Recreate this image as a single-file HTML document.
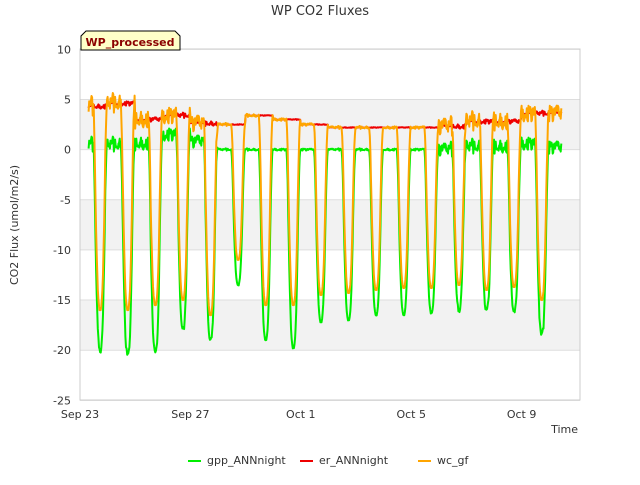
<!DOCTYPE html>
<html><head><meta charset="utf-8"><style>
body{margin:0;background:#fff;font-family:"Liberation Sans","DejaVu Sans",sans-serif}
</style></head><body>
<svg width="640" height="480" xmlns="http://www.w3.org/2000/svg" font-family="DejaVu Sans, Liberation Sans, sans-serif">
<text x="320" y="15" text-anchor="middle" font-size="13" fill="#333">WP CO2 Fluxes</text>
<g id="grid"></g>
<g id="series"></g>
<g id="axes"></g>
<text transform="translate(18,225) rotate(-90)" text-anchor="middle" font-size="11" fill="#333">CO2 Flux (umol/m2/s)</text>
<text x="578" y="433" text-anchor="end" font-size="11" fill="#333">Time</text>
<g>
<path d="M81,50 L81,36 L86,31 L175,31 L180,36 L180,50 Z" fill="#ffffc8" stroke="#000" stroke-width="1"/>
<text x="130" y="46" text-anchor="middle" font-size="11" font-weight="bold" fill="#8b0000">WP_processed</text>
</g>
<g id="legend"></g>
</svg>
<script>
const yTicks=[10,5,0,-5,-10,-15,-20,-25];
const xTickDays=[0,4,8,12,16];
const xTickLabels=["Sep 23","Sep 27","Oct 1","Oct 5","Oct 9"];
const seriesNames=["gpp_ANNnight","er_ANNnight","wc_gf"];
const gppMin=[-20,-20.5,-20.3,-18,-19,-13.5,-19,-19.8,-17.2,-17,-16.5,-16.5,-16.3,-16,-16,-16.3,-18.5,-2];
const gppNight=[0.5,0.5,0.6,1.5,0.8,0,0,0,0,0,0,0,0,0,0.3,0.3,0.6,0.2];
const wcMin=[-16,-16,-15.5,-15,-16.5,-11,-15.5,-15.5,-14.5,-14.3,-14,-13.8,-13.8,-13.5,-14,-13.7,-15,-1];
const erNight=[4.3,4.6,3.0,3.4,2.6,2.5,3.4,3.0,2.5,2.2,2.2,2.2,2.2,2.3,2.8,2.8,3.6,3.6];
const dayProfile=[0,0,0,0,0,0,0,0,0,0,0,0,0,0,0,0,0,0,0,0,0,0,0,0,0.05,0.15,0.3,0.45,0.6,0.72,0.82,0.9,0.95,0.98,1,1,1,0.98,0.95,0.9,0.82,0.7,0.55,0.4,0.25,0.12,0.04,0];
const jitter=[0.3,-0.4,0.6,-0.2,0.8,-0.6,0.1,0.5,-0.3,0.7,-0.5,0.2,-0.1,0.4,-0.7,0.3,0.6,-0.2,-0.5,0.2,0.4,-0.3,0.1,-0.6,0.5,-0.1,0.3,-0.4,0.6,-0.2,0.2,-0.5,0.4,0.1,-0.3,0.5,-0.6,0.2,0.3,-0.2,0.6,-0.4,0.1,0.5,-0.3,0.2,-0.1,0.4];
const t0=0.3, t1=17.45;
const X=d=>80+d*27.6, Y=v=>149.6-v*10.03;
const NS='http://www.w3.org/2000/svg';
function el(tag,attrs,parent){const e=document.createElementNS(NS,tag);for(const k in attrs)e.setAttribute(k,attrs[k]);parent.appendChild(e);return e;}
const grid=document.getElementById('grid'),axes=document.getElementById('axes');
[[5,0],[-5,-10],[-15,-20]].forEach(b=>{
 const r=el('rect',{x:80,y:Y(b[0]),width:500,height:Y(b[1])-Y(b[0]),fill:'#f2f2f2'},grid);
 
 
});
yTicks.forEach(v=>{
 const l=el('line',{x1:80,x2:580,y1:Y(v),y2:Y(v),stroke:'#ddd'},grid);
 
 
 const t=el('text',{x:71,y:Y(v)+4,'text-anchor':'end','font-size':11,fill:'#333'},axes);
 
 
 t.textContent=v;
});
el('rect',{x:80,y:49,width:500,height:351,fill:'none',stroke:'#ccc'},axes);
xTickDays.forEach((d,i)=>{
 const t=el('text',{x:X(d),y:418,'text-anchor':'middle','font-size':11,fill:'#333'},axes);
 
 
 t.textContent=xTickLabels[i];
});
const gpp=[],er=[],wc=[];
for(let d=0;d<gppMin.length;d++){for(let k=0;k<48;k++){
 const t=d+k/48; if(t<t0||t>t1)continue;
 const p=dayProfile[k], j=jitter[(k*5+d*7)%48];
 const noise=(d<5||d>=13)?1:0.15;
 er.push([t,erNight[d]+j*0.35*noise]);
 gpp.push([t,gppNight[d]*(1-p)+gppMin[d]*p+j*noise*(1-p*0.6)]);
 wc.push([t,(erNight[d]+j*1.3*noise)*(1-p)+wcMin[d]*p]);
}}
const colors=['#00ee00','#ee0000','#ffa500'];
const ser=document.getElementById('series');
[gpp,er,wc].forEach((s,i)=>{
 const pl=el('polyline',{points:s.map(q=>X(q[0]).toFixed(1)+','+Y(q[1]).toFixed(1)).join(' '),fill:'none',stroke:colors[i],'stroke-width':2,'stroke-linejoin':'round'},ser);
 
 
});
const leg=document.getElementById('legend');
const lx=[188,300,418];
seriesNames.forEach((n,i)=>{
 const g=el('g',{},leg);
 
 
 el('line',{x1:lx[i],x2:lx[i]+13,y1:461,y2:461,stroke:colors[i],'stroke-width':2},g);
 const t=el('text',{x:lx[i]+19,y:464,'font-size':11,fill:'#333'},g);
 t.textContent=n;
});
</script>
</body></html>
